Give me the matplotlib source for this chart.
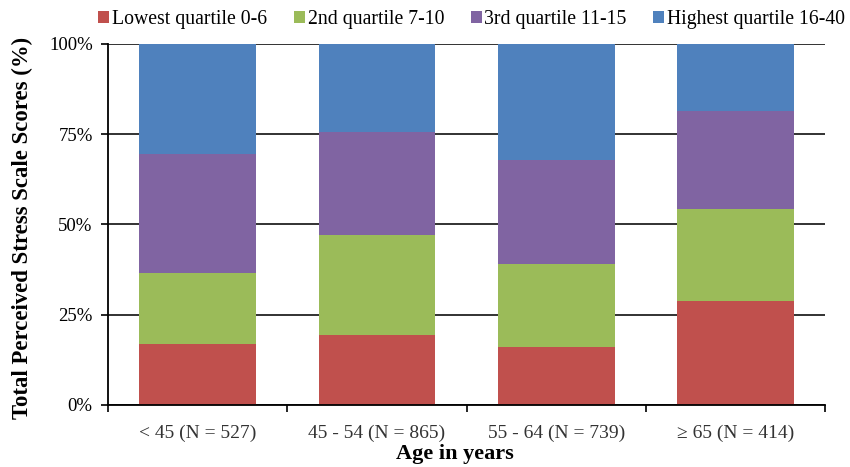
import numpy as np
import matplotlib
matplotlib.use("Agg")
import matplotlib.pyplot as plt
from matplotlib.ticker import FixedLocator

plt.rcParams['font.family'] = ['Liberation Serif', 'DejaVu Serif']

# age groups
groups = ["< 45 (N = 527)", "45 - 54 (N = 865)", "55 - 64 (N = 739)", "\u2265 65 (N = 414)"]
# share of each quartile (%) per age group
lowest = [16.9, 19.4, 16.1, 28.9]
second = [19.6, 27.7, 22.8, 25.4]
third = [32.9, 28.5, 28.8, 27.2]
highest = [30.6, 24.4, 32.3, 18.5]

series = [lowest, second, third, highest]
labels = ["Lowest quartile 0-6", "2nd quartile 7-10", "3rd quartile 11-15", "Highest quartile 16-40"]
colors = ["#C0504D", "#9BBB59", "#8064A2", "#4F81BD"]

fig = plt.figure(figsize=(8.5, 4.67), dpi=100)
ax = fig.add_axes([0.127, 0.133, 0.844, 0.773])

x = np.arange(len(groups))
bottom = np.zeros(len(groups))
for vals, lab, col in zip(series, labels, colors):
    vals = np.array(vals)
    ax.bar(x, vals, 0.65, bottom=bottom, color=col, label=lab, zorder=3)
    bottom += vals

ax.set_xlim(-0.5, len(groups) - 0.5)
ax.set_ylim(0, 100)
ax.set_yticks([0, 25, 50, 75, 100])
ax.set_yticklabels(["0%", "25%", "50%", "75%", "100%"], fontsize=13.5)
ax.yaxis.grid(True, color="#222222", lw=1.3, zorder=1)

ax.set_xticks(x)
ax.set_xticklabels(groups, fontsize=14, color="#333333")
ax.tick_params(axis="x", length=0, pad=14)
ax.xaxis.set_minor_locator(FixedLocator(np.arange(-0.5, len(groups), 1)))
ax.tick_params(axis="x", which="minor", length=5, width=1.2, direction="out")
ax.tick_params(axis="y", length=5, width=1.2, direction="out", pad=6)

for s in ["top", "right"]:
    ax.spines[s].set_visible(False)
for s in ["left", "bottom"]:
    ax.spines[s].set_linewidth(1.3)
    ax.spines[s].set_zorder(4)

ax.set_ylabel("Total Perceived Stress Scale Scores (%)", fontsize=16.4, fontweight="bold")
ax.yaxis.set_label_coords(-0.105, 0.489)
ax.set_xlabel("Age in years", fontsize=16, fontweight="bold")
ax.xaxis.set_label_coords(0.484, -0.108)

fig.legend(loc="center", bbox_to_anchor=(0.555, 0.958), ncol=4, frameon=False,
           fontsize=14.2, handlelength=0.55, handleheight=0.55, handletextpad=0.15,
           columnspacing=1.35)

fig.savefig("out.png", dpi=100)
